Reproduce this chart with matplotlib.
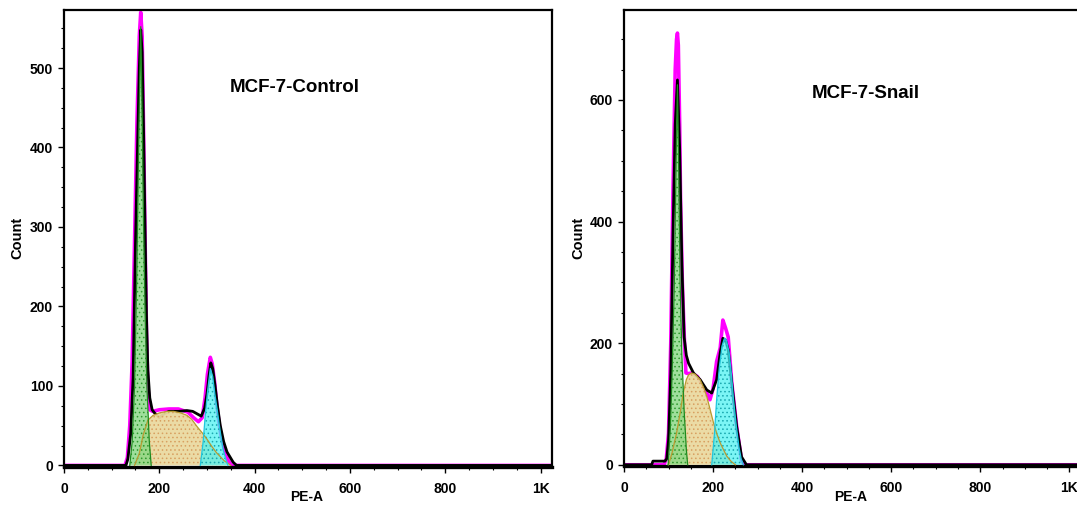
import matplotlib.pyplot as plt
from matplotlib.ticker import MultipleLocator, FixedLocator

plt.rcParams['font.family'] = ['Liberation Sans', 'DejaVu Sans']
plt.rcParams['font.weight'] = 'bold'
plt.rcParams['hatch.linewidth'] = 0.6

# ---- MCF-7-Control : PE-A histogram + cell cycle model ----
ctl_data_x = [0, 130, 134, 140, 145, 150, 155, 158, 161, 164, 167, 170, 173, 176, 180, 185, 190, 200, 210, 220,
              240, 258, 270, 282, 288, 295, 300, 304, 308, 312, 317, 322, 328, 335, 342, 349, 355, 362, 1024]
ctl_data_y = [0, 0, 8, 40, 110, 280, 420, 500, 548, 520, 420, 300, 190, 120, 85, 70, 66, 60, 65, 68,
              68, 69, 68, 64, 62, 72, 90, 112, 129, 122, 100, 75, 50, 30, 17, 10, 4, 0, 0]

ctl_fit_x = [0, 128, 133, 138, 143, 148, 153, 158, 161, 164, 167, 170, 173, 176, 180, 186, 200, 220, 240, 260,
             272, 282, 290, 296, 301, 307, 311, 316, 320, 325, 330, 337, 345, 352, 1024]
ctl_fit_y = [0, 0, 10, 50, 130, 280, 430, 540, 570, 540, 420, 290, 170, 100, 70, 68, 70, 71, 71, 67,
             60, 55, 60, 85, 115, 136, 128, 105, 80, 55, 35, 18, 6, 0, 0]

ctl_g1_x = [138, 143, 148, 153, 157, 161, 164, 167, 170, 174, 179, 183]
ctl_g1_y = [0, 30, 100, 250, 420, 552, 440, 300, 200, 100, 30, 0]

ctl_s_x = [148, 158, 166, 176, 187, 200, 215, 230, 245, 258, 268, 279, 290, 300, 310, 320, 328, 336, 343, 350]
ctl_s_y = [0, 15, 38, 57, 63, 66, 68, 68, 66, 63, 58, 49, 41, 33, 24, 16, 11, 6, 3, 0]

ctl_g2_x = [286, 292, 296, 301, 307, 312, 317, 322, 328, 334, 340, 344]
ctl_g2_y = [0, 30, 60, 92, 122, 112, 88, 68, 42, 20, 7, 0]

# ---- MCF-7-Snail ----
snl_data_x = [0, 62, 65, 92, 96, 100, 105, 110, 115, 120, 125, 130, 135, 140, 145, 156, 171, 186, 197, 208,
              216, 222, 228, 234, 242, 253, 264, 275, 1024]
snl_data_y = [0, 0, 6, 6, 10, 40, 150, 380, 560, 633, 520, 330, 210, 180, 167, 151, 140, 123, 118, 140,
              184, 208, 205, 189, 135, 63, 13, 0, 0]

snl_fit_x = [0, 90, 95, 100, 105, 110, 115, 118, 120, 122, 125, 127, 131, 135, 139, 145, 152, 165, 178, 186,
             193, 200, 208, 216, 222, 228, 234, 242, 253, 264, 270, 1024]
snl_fit_y = [0, 0, 10, 52, 200, 450, 650, 700, 710, 690, 560, 435, 300, 217, 151, 150, 151, 145, 128, 118,
             107, 125, 170, 192, 238, 225, 210, 135, 63, 7, 0, 0]

snl_g1_x = [99, 104, 108, 113, 117, 120, 123, 126, 130, 135, 140, 143]
snl_g1_y = [0, 60, 150, 300, 500, 625, 480, 300, 180, 90, 25, 0]

snl_s_x = [100, 108, 118, 126, 133, 140, 145, 152, 160, 171, 180, 186, 193, 201, 208, 216, 224, 231, 240, 250]
snl_s_y = [0, 20, 52, 85, 118, 140, 148, 151, 149, 140, 125, 112, 92, 69, 52, 36, 24, 14, 6, 0]

snl_g2_x = [197, 203, 208, 214, 220, 225, 227, 230, 236, 241, 246, 252, 258, 263, 268]
snl_g2_y = [0, 50, 107, 160, 195, 207, 208, 205, 185, 150, 107, 65, 30, 10, 0]

W, H = 1077, 508
fig = plt.figure(figsize=(W / 100, H / 100), dpi=100)

ax1 = fig.add_axes([64 / W, 1 - 467 / H, (552 - 64) / W, (467 - 10) / H])
ax2 = fig.add_axes([624 / W, 1 - 466 / H, (1080 - 624) / W, (466 - 10) / H])


def fill_part(ax, x, y, face, alpha, dots, edge):
    ax.fill_between(x, y, 0, facecolor=face, alpha=alpha, linewidth=0, zorder=3)
    ax.fill_between(x, y, 0, facecolor='none', edgecolor=dots, hatch='....', linewidth=0, zorder=3)
    ax.plot(x, y, color=edge, lw=0.9, zorder=4)


def draw(ax, dx, dy, fx, fy, g1x, g1y, sx, sy, g2x, g2y, ymax, ystep, ytick):
    ax.plot(fx, fy, color='#ff00ff', lw=2.6, zorder=2, solid_joinstyle='round')
    ax.plot(dx, dy, color='black', lw=2.0, zorder=2.5, solid_joinstyle='round')
    fill_part(ax, sx, sy, '#ead9a0', 0.95, '#d8a060', '#b89a30')
    fill_part(ax, g1x, g1y, '#86d882', 0.8, '#2f9a2f', '#1f8a1f')
    fill_part(ax, g2x, g2y, '#4ff2f2', 0.75, '#1aa8b0', '#20c8e0')

    ax.set_xlim(0, 1024)
    ax.set_ylim(-2, ymax)
    ax.xaxis.set_major_locator(FixedLocator([0, 200, 400, 600, 800, 1000]))
    ax.set_xticklabels(['0', '200', '400', '600', '800', '1K'])
    ax.xaxis.set_minor_locator(MultipleLocator(50))
    ax.yaxis.set_major_locator(MultipleLocator(ytick))
    ax.yaxis.set_minor_locator(MultipleLocator(ystep))
    ax.tick_params(axis='both', which='major', direction='out', length=4, width=1, labelsize=10)
    ax.tick_params(axis='both', which='minor', direction='out', length=2.5, width=0.8)
    ax.tick_params(axis='x', which='major', pad=7)
    ax.tick_params(axis='y', which='major', pad=4)
    for lab in ax.get_xticklabels() + ax.get_yticklabels():
        lab.set_fontweight('bold')
    for s in ax.spines.values():
        s.set_linewidth(1.6)
    ax.spines['bottom'].set_linewidth(2.4)


draw(ax1, ctl_data_x, ctl_data_y, ctl_fit_x, ctl_fit_y, ctl_g1_x, ctl_g1_y,
     ctl_s_x, ctl_s_y, ctl_g2_x, ctl_g2_y, 573, 25, 100)
draw(ax2, snl_data_x, snl_data_y, snl_fit_x, snl_fit_y, snl_g1_x, snl_g1_y,
     snl_s_x, snl_s_y, snl_g2_x, snl_g2_y, 748, 50, 200)

fig.text(295 / W, 1 - 88 / H, 'MCF-7-Control', fontsize=13.5, fontweight='bold', ha='center', va='center')
fig.text(866 / W, 1 - 94 / H, 'MCF-7-Snail', fontsize=13.5, fontweight='bold', ha='center', va='center')
for xc in (17, 578):
    fig.text(xc / W, 1 - 238 / H, 'Count', fontsize=10.5, fontweight='bold', rotation=90, ha='center', va='center')
for xc in (307, 851):
    fig.text(xc / W, 1 - 497 / H, 'PE-A', fontsize=10, fontweight='bold', ha='center', va='center')

fig.savefig('out.png', dpi=100)
